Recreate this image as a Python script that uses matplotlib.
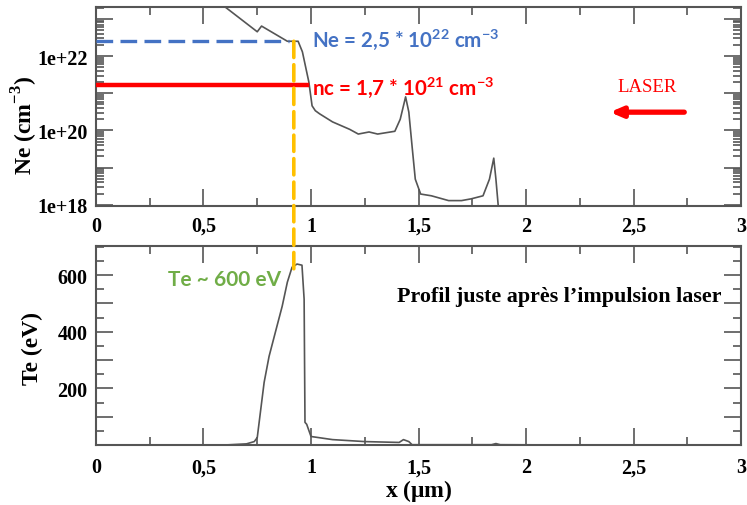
import math
import matplotlib
matplotlib.use("Agg")
import matplotlib.pyplot as plt
from matplotlib.ticker import MultipleLocator, FixedLocator, LogLocator, NullFormatter, FuncFormatter
from matplotlib.patches import ConnectionPatch

plt.rcParams['mathtext.fontset'] = 'custom'
plt.rcParams['mathtext.bf'] = 'Lato:bold'
plt.rcParams['mathtext.sf'] = 'Liberation Serif:bold'
plt.rcParams['mathtext.rm'] = 'Lato'

# ---- data ----
x_ne = [0.0, 0.60, 0.75, 0.77, 0.89, 0.94, 0.96, 0.99, 1.005, 1.02, 1.04, 1.10, 1.18, 1.22, 1.27,
        1.31, 1.39, 1.415, 1.44, 1.455, 1.47, 1.485, 1.51, 1.56, 1.64, 1.70, 1.745, 1.80, 1.83,
        1.85, 1.86, 1.875]
ne = [2.1e23, 2.1e23, 4.5e22, 6.4e22, 2.5e22, 2.5e22, 1.3e22, 2.0e21, 4.6e20, 3.4e20, 2.8e20,
      1.7e20, 1.07e20, 8.0e19, 9.1e19, 8.0e19, 9.5e19, 2.0e20, 8.0e20, 3.1e20, 3.8e19, 4.9e18,
      1.95e18, 1.75e18, 1.3e18, 1.3e18, 1.45e18, 1.75e18, 4.9e18, 1.8e19, 4.9e18, 5e17]

x_te = [0.0, 0.60, 0.70, 0.736, 0.75, 0.768, 0.782, 0.805, 0.838, 0.866, 0.89, 0.912, 0.935,
        0.958, 0.968, 0.972, 0.98, 1.0, 1.10, 1.25, 1.41, 1.43, 1.455, 1.47, 1.60, 1.84, 1.86,
        1.88, 2.2, 3.0]
te = [0.0, 0.0, 4, 12, 26, 136, 221, 313, 409, 490, 575, 628, 639, 635, 515, 80, 73, 30, 19,
      12, 9, 19, 12, 1, 1, 1, 5, 1, 0, 0]

ne_solid = 2.5e22
nc = 1.7e21
x_ne_line = 0.90
x_nc_line = 0.98
x_marker = 0.92
te_marker = 620

xticks = [0, 0.5, 1, 1.5, 2, 2.5, 3]
xticklabels = ['0', '0,5', '1', '1,5', '2', '2,5', '3']
te_ticks = [100, 200, 300, 400, 500, 600]
te_ticklabels = ['', '200', '', '400', '', '600']

BLUE = '#4472C4'
RED = '#FF0000'
ORANGE = '#FFC000'
GREEN = '#70AD47'
CURVE = '#555555'
SPINE = '#555555'

fig = plt.figure(figsize=(7.47, 5.06), dpi=100)
ax1 = fig.add_axes([0.1285, 0.591, 0.8635, 0.394])
ax2 = fig.add_axes([0.1285, 0.1186, 0.8635, 0.3934])

tickfont = dict(family='Liberation Serif', weight='bold', size=14.5)

for ax in (ax1, ax2):
    ax.set_xlim(0, 3)
    ax.xaxis.set_major_locator(FixedLocator(xticks))
    ax.set_xticklabels(xticklabels, **tickfont)
    ax.xaxis.set_minor_locator(MultipleLocator(0.25))
    ax.tick_params(which='both', direction='in', top=True, right=True, color=SPINE, width=1.2)
    ax.tick_params(which='major', length=12, pad=6)
    ax.tick_params(which='minor', length=6)
    ax.tick_params(axis='x', which='major', pad=9)
    for s in ax.spines.values():
        s.set_color(SPINE)
        s.set_linewidth(1.5)

# --- top panel ---
ax1.set_yscale('log')
ax1.set_ylim(10**17.97, 10**23.33)
ax1.plot(x_ne, ne, color=CURVE, lw=1.2, zorder=3)
ax1.yaxis.set_major_locator(LogLocator(base=10, numticks=20))
ax1.yaxis.set_minor_locator(LogLocator(base=10, subs=range(2, 10), numticks=50))
ax1.yaxis.set_minor_formatter(NullFormatter())
ax1.yaxis.set_major_formatter(FuncFormatter(
    lambda v, p: ('1e+%d' % round(math.log10(v))) if round(math.log10(v)) % 2 == 0 else ''))
for lab in ax1.get_yticklabels():
    lab.set_fontfamily('Liberation Serif'); lab.set_fontweight('bold'); lab.set_fontsize(14.5)
ax1.tick_params(axis='x', which='major', pad=7)
ax1.set_ylabel(r'Ne (cm$^{\mathsf{-3}}$)', family='Liberation Serif', weight='bold', size=17)
ax1.yaxis.set_label_coords(-0.087, 0.41)

ax1.plot([0, x_ne_line], [ne_solid, ne_solid], color=BLUE, lw=2.4, dashes=(5, 2.2), zorder=4)
ax1.plot([0, x_nc_line], [nc, nc], color=RED, lw=3.2, zorder=4)

ax1.text(1.005, 2.9e22, r'Ne = 2,5 * 10$^{\mathbf{22}}$ cm$^{\mathbf{-3}}$', color=BLUE,
         family='Lato', weight='bold', size=14.8, va='center', ha='left')
ax1.text(1.005, 1.5e21, r'nc = 1,7 * 10$^{\mathbf{21}}$ cm$^{\mathbf{-3}}$', color=RED,
         family='Lato', weight='bold', size=14.8, va='center', ha='left')
ax1.text(2.565, 1.5e21, 'LASER', color=RED, family='Liberation Serif', size=13.5,
         va='center', ha='center')
ax1.annotate('', xy=(2.39, 3.1e20), xytext=(2.736, 3.1e20),
             arrowprops=dict(arrowstyle='-|>,head_length=0.7,head_width=0.3', color=RED, lw=3.8,
                             shrinkA=0, shrinkB=0))

# --- bottom panel ---
ax2.set_ylim(0, 703)
ax2.plot(x_te, te, color=CURVE, lw=1.2, zorder=3)
ax2.yaxis.set_major_locator(FixedLocator(te_ticks))
ax2.set_yticklabels(te_ticklabels, **tickfont)
ax2.yaxis.set_minor_locator(MultipleLocator(50))
ax2.set_ylabel('Te (eV)', family='Liberation Serif', weight='bold', size=17)
ax2.yaxis.set_label_coords(-0.082, 0.49)
ax2.set_xlabel(r'x ($\mathsf{\mu}$m)', family='Liberation Serif', weight='bold', size=17, labelpad=0)

ax2.text(0.333, 586, 'Te ~ 600 eV', color=GREEN, family='Lato', weight='bold', size=15,
         va='center', ha='left')
ax2.text(1.40, 526, 'Profil juste après l\u2019impulsion laser', color='black',
         family='Liberation Serif', weight='bold', size=15.8, va='center', ha='left')

con = ConnectionPatch(xyA=(x_marker, ne_solid), coordsA=ax1.transData,
                      xyB=(x_marker, te_marker), coordsB=ax2.transData,
                      color=ORANGE, lw=2.6, linestyle=(0, (4.5, 2)), zorder=5)
fig.add_artist(con)

fig.savefig('out.png', dpi=100)
